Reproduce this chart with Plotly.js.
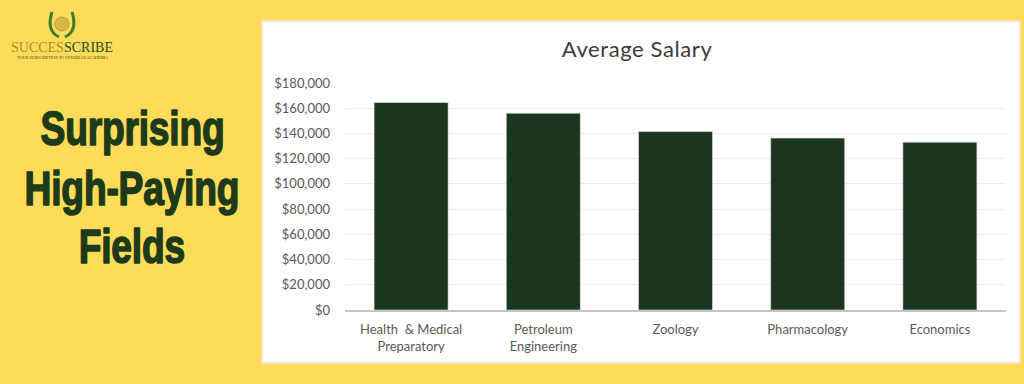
<!DOCTYPE html>
<html>
<head>
<meta charset="utf-8">
<script src="https://cdn.plot.ly/plotly-3.0.1.min.js"></script>
<style>html,body{margin:0;padding:0;background:#fedc5a;}#chart{width:1024px;height:384px;}</style>
</head>
<body>
<div id="chart"></div>
<script>
// Data
const categories = ["Health  & Medical<br>Preparatory", "Petroleum<br>Engineering", "Zoology", "Pharmacology", "Economics"];
const salaries = [164500, 156000, 141500, 136300, 133100];
const yTickValues = [0, 20000, 40000, 60000, 80000, 100000, 120000, 140000, 160000, 180000];
const chartTitle = "Average Salary";
const headline = ["Surprising", "High-Paying", "Fields"];

// Pixel -> paper helpers (plot area: x 345..1006, y 83..310)
const L = 345, R = 1006, T = 83, B = 310;
const px = x => (x - L) / (R - L);
const py = y => (B - y) / (B - T);
const HEAD_CX = 132;

const trace = {
  type: 'bar',
  x: categories,
  y: salaries,
  marker: {color: '#1b3620', line: {color: '#dfe6da', width: 0.6}},
  width: 0.56,
  hoverinfo: 'skip'
};

const annotations = [];
const headY = [128, 188, 246];
headline.forEach((t, i) => {
  annotations.push({
    xref: 'paper', yref: 'paper', x: px(HEAD_CX), y: py(headY[i]),
    xanchor: 'center', yanchor: 'middle', showarrow: false,
    text: '<b>' + t + '</b>',
    font: {family: '"Liberation Sans", Arial, sans-serif', size: 49, color: '#1d3a1a'}
  });
});
annotations.push({
  xref: 'paper', yref: 'paper', x: px(62), y: py(47),
  xanchor: 'center', yanchor: 'middle', showarrow: false,
  text: '<span style="color:#a88f2e">SUCCES</span><span style="color:#244d1c">SCRIBE</span>',
  font: {family: '"Liberation Serif", "DejaVu Serif", serif', size: 14}
});
annotations.push({
  xref: 'paper', yref: 'paper', x: px(62), y: py(57),
  xanchor: 'center', yanchor: 'middle', showarrow: false,
  text: 'YOUR SUBSCRIPTION TO OVERSEAS ACADEMIA',
  font: {family: '"Liberation Serif", serif', size: 4, color: '#2a4a1c'}
});

const shapes = [
  {type: 'rect', xref: 'paper', yref: 'paper', layer: 'below',
   x0: px(262), x1: px(1020), y0: py(363), y1: py(21),
   fillcolor: '#ffffff', line: {color: '#f1e6c4', width: 2}},
  // logo wreath
  {type: 'circle', xref: 'paper', yref: 'paper', layer: 'above',
   x0: px(55), x1: px(69), y0: py(31), y1: py(17),
   fillcolor: '#d9b54e', line: {color: '#c29a35', width: 1}},
  {type: 'path', xref: 'paper', yref: 'paper', layer: 'above',
   path: `M ${px(59)},${py(37)} Q ${px(46)},${py(31)} ${px(52)},${py(12)}`,
   line: {color: '#3f7d2b', width: 3}},
  {type: 'path', xref: 'paper', yref: 'paper', layer: 'above',
   path: `M ${px(65)},${py(37)} Q ${px(78)},${py(31)} ${px(72)},${py(12)}`,
   line: {color: '#3f7d2b', width: 3}}
];

const layout = {
  width: 1024, height: 384,
  margin: {l: L, r: 1024 - R, t: T, b: 384 - B, pad: 0},
  paper_bgcolor: '#fedc5a',
  plot_bgcolor: 'rgba(0,0,0,0)',
  showlegend: false,
  title: {
    text: chartTitle,
    x: px(641), xref: 'paper', xanchor: 'center',
    y: 1 - 49 / 384, yref: 'container', yanchor: 'middle',
    font: {family: 'Lato, "Open Sans", sans-serif', size: 22, color: '#3b3b3b'}
  },
  xaxis: {
    type: 'category',
    showgrid: false,
    showline: true, linecolor: '#c4c4c4', linewidth: 2,
    ticks: '', ticklabelstandoff: 6,
    tickfont: {family: 'Lato, "Open Sans", sans-serif', size: 13, color: '#595959'},
    fixedrange: true
  },
  yaxis: {
    range: [0, 180000],
    tickvals: yTickValues,
    tickformat: '$,.0f',
    showgrid: true, gridcolor: '#ececec', gridwidth: 1,
    zeroline: false, showline: false,
    ticks: '', ticklabelstandoff: 14,
    tickfont: {family: 'Lato, "Open Sans", sans-serif', size: 13, color: '#595959'},
    fixedrange: true
  },
  bargap: 0.44,
  annotations: annotations,
  shapes: shapes
};

Plotly.newPlot('chart', [trace], layout, {displayModeBar: false, staticPlot: true}).then(() => {
  // condense the headline text horizontally about its own centre (no narrow bold font installed)
  const anns = document.querySelectorAll('#chart .annotation');
  for (let i = 0; i < headline.length; i++) {
    const txt = anns[i] && anns[i].querySelector('text');
    if (txt) {
      txt.style.letterSpacing = '-0.3px';
      txt.style.stroke = '#1d3a1a';
      txt.style.strokeWidth = '1.6px';
      txt.style.strokeLinejoin = 'round';
      const bb = txt.getBBox();
      const cx = bb.x + bb.width / 2;
      txt.setAttribute('transform', `translate(${cx},0) scale(0.76,1) translate(${-cx},0)`);
    }
  }
  const title = document.querySelector('#chart .gtitle');
  if (title) {
    const bb = title.getBBox();
    title.style.letterSpacing = '0.6px';
    const bb2 = title.getBBox();
    const shift = (bb.width - bb2.width) / 2;
    title.setAttribute('transform', `translate(${shift},0)`);
  }
});
</script>
</body>
</html>
